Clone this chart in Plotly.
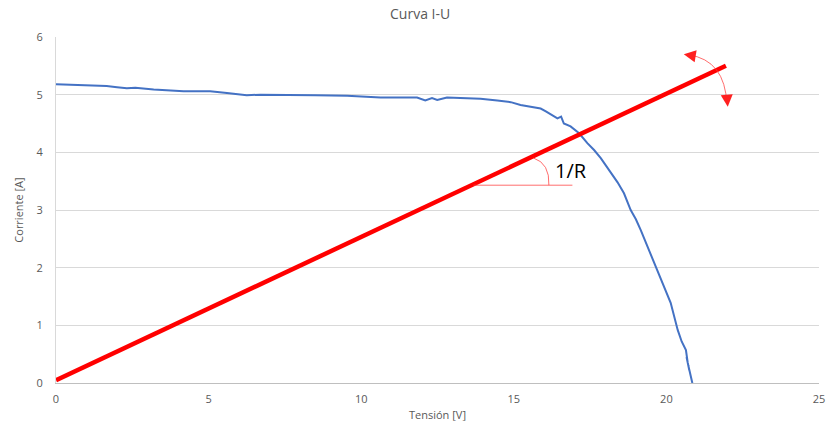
import plotly.graph_objects as go

# I-U curve data (Tensión [V], Corriente [A])
tension = [0, 0.8, 1.66, 2.0, 2.32, 2.6, 3.2, 4.18, 5.05, 5.6, 6.25, 6.7, 7.12, 7.35,
           8.5, 9.54, 10.63, 11.83, 12.1, 12.32, 12.49, 12.81, 13.91, 14.46, 14.9,
           15.22, 15.55, 15.88, 16.05, 16.2, 16.3, 16.43, 16.55, 16.64, 16.86, 17.14,
           17.41, 17.63, 17.85, 18.07, 18.23, 18.4, 18.61, 18.83, 19.0, 19.16, 19.43,
           19.71, 19.9, 20.14, 20.37, 20.5, 20.64, 20.70, 20.66, 20.75, 20.72, 20.80,
           20.78, 20.85, 20.88]
corriente = [5.18, 5.17, 5.15, 5.13, 5.11, 5.12, 5.09, 5.06, 5.06, 5.03, 4.99, 5.00, 5.00, 5.00,
             4.99, 4.98, 4.95, 4.95, 4.90, 4.94, 4.91, 4.95, 4.93, 4.90, 4.87,
             4.82, 4.79, 4.76, 4.71, 4.66, 4.63, 4.59, 4.62, 4.50, 4.45, 4.33,
             4.16, 4.04, 3.90, 3.72, 3.61, 3.48, 3.29, 3.00, 2.84, 2.65, 2.31,
             1.96, 1.70, 1.39, 0.92, 0.72, 0.57, 0.35, 0.45, 0.22, 0.30, 0.10,
             0.15, 0.0, 0.0]

# Load line (slope 1/R)
carga_x = [0, 21.95]
carga_y = [0.05, 5.50]

x_ticks = [0, 5, 10, 15, 20, 25]
y_ticks = [0, 1, 2, 3, 4, 5, 6]

grey = "#595959"
font_family = "Open Sans, Noto Sans, sans-serif"

fig = go.Figure()
fig.add_trace(go.Scatter(x=tension, y=corriente, mode="lines",
                         line=dict(color="#4472C4", width=2), showlegend=False,
                         hoverinfo="skip"))
fig.add_trace(go.Scatter(x=carga_x, y=carga_y, mode="lines",
                         line=dict(color="#FF0000", width=4.5), showlegend=False,
                         hoverinfo="skip"))

arc_col = "rgba(255,60,60,0.75)"
# horizontal reference line for angle
fig.add_shape(type="line", xref="x", yref="y", x0=13.68, y0=3.43, x1=16.92, y1=3.43,
              line=dict(color=arc_col, width=1))
# angle arc
fig.add_shape(type="path", xref="x", yref="y",
              path="M 15.65,3.90 Q 16.18,3.81 16.15,3.43",
              line=dict(color=arc_col, width=1))
# rotation arrow arc
fig.add_shape(type="path", xref="x", yref="y",
              path="M 20.73,5.69 Q 21.92,5.60 21.98,4.84",
              line=dict(color=arc_col, width=1))

fig.add_annotation(x=20.57, y=5.70, xref="x", yref="y", text="", showarrow=True,
                   ax=12, ay=2, arrowhead=2, arrowsize=2, arrowwidth=1.2,
                   arrowcolor="#FF2020")
fig.add_annotation(x=22.01, y=4.79, xref="x", yref="y", text="", showarrow=True,
                   ax=-1, ay=-12, arrowhead=2, arrowsize=2, arrowwidth=1.2,
                   arrowcolor="#FF2020")

fig.add_annotation(x=16.88, y=3.68, xref="x", yref="y", text="1/R", showarrow=False,
                   font=dict(family=font_family, size=20, color="#000000"))

fig.update_layout(
    width=827, height=425,
    margin=dict(l=56, r=8, t=37, b=42, autoexpand=False),
    paper_bgcolor="white", plot_bgcolor="white",
    title=dict(text="Curva I-U", x=0.508, xanchor="center", y=0.967, yanchor="middle",
               font=dict(family=font_family, size=14, color=grey)),
    font=dict(family=font_family, color=grey, size=11),
    xaxis=dict(range=[0, 25], tickvals=x_ticks, showgrid=False, zeroline=False,
               showline=True, linecolor="#BFBFBF", linewidth=1, automargin=False,
               ticks="", ticklabelstandoff=6,
               tickfont=dict(size=11, color=grey),
               title=dict(text="Tensión [V]", font=dict(size=11, color=grey), standoff=6)),
    yaxis=dict(range=[0, 6], tickvals=y_ticks, showgrid=True, gridcolor="#D9D9D9",
               gridwidth=1, zeroline=False, showline=True, linecolor="#D9D9D9",
               linewidth=1, automargin=False, ticks="", ticklabelstandoff=10,
               tickfont=dict(size=11, color=grey),
               title=dict(text="Corriente [A]", font=dict(size=11, color=grey), standoff=10)),
)

fig.write_html("out.html")
